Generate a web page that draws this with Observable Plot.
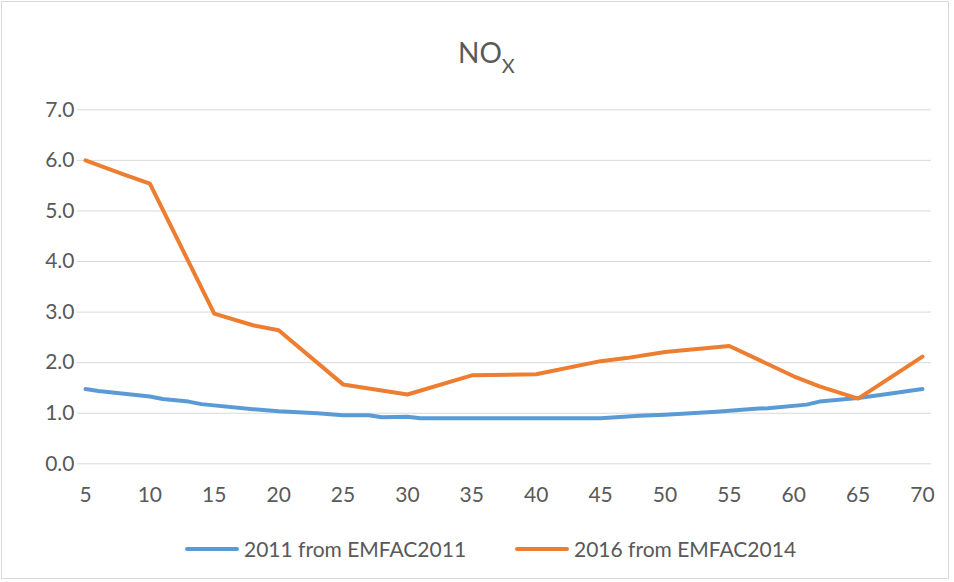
<!DOCTYPE html>
<html>
<head>
<meta charset="utf-8">
<script src="https://cdn.jsdelivr.net/npm/d3@7"></script>
<script src="https://cdn.jsdelivr.net/npm/@observablehq/plot@0.6"></script>
<style>
  body { margin: 0; background: #fff; }
  #page { position: relative; width: 954px; height: 582px; font-family: Lato, "Open Sans", sans-serif; color: #595959; overflow: hidden; }
  #border { position: absolute; left: 1px; top: 1px; width: 946px; height: 576px; border: 1px solid #d9d9d9; box-sizing: content-box; }
  #title { position: absolute; left: 458px; top: 38px; font-size: 28px; line-height: 28px; white-space: nowrap; }
  #title .sub { font-size: 20px; position: relative; top: 10px; }
  #chart { position: absolute; left: 0; top: 90px; }
  .leg { position: absolute; top: 537px; height: 24px; line-height: 24px; font-size: 21px; white-space: nowrap; display: flex; align-items: center; }
  .sw { display: inline-block; width: 54px; height: 4px; border-radius: 2px; margin-right: 5px; }
</style>
</head>
<body>
<div id="page">
  <div id="border"></div>
  <div id="title">NO<span class="sub">X</span></div>
  <div id="chart"></div>
  <div class="leg" style="left:185px"><span class="sw" style="background:#5B9BD5"></span><span>2011 from EMFAC2011</span></div>
  <div class="leg" style="left:515px"><span class="sw" style="background:#ED7D31"></span><span>2016 from EMFAC2014</span></div>
</div>
<script>
const seriesNames = ["2011 from EMFAC2011", "2016 from EMFAC2014"];
const colors = ["#5B9BD5", "#ED7D31"];

const speeds2011 = [5, 6, 10, 11, 13, 14, 18, 20, 23, 25, 27, 28, 30, 31, 45, 48, 50, 54, 57, 58, 61, 62, 65, 67, 70];
const values2011 = [1.48, 1.44, 1.33, 1.28, 1.23, 1.18, 1.08, 1.04, 1.00, 0.96, 0.96, 0.92, 0.93, 0.90, 0.90, 0.95, 0.97, 1.03, 1.09, 1.10, 1.17, 1.23, 1.30, 1.37, 1.48];

const speeds2016 = [5, 8, 10, 15, 18, 20, 25, 28, 30, 35, 40, 45, 47, 50, 55, 60, 62, 65, 70];
const values2016 = [6.00, 5.72, 5.54, 2.97, 2.74, 2.64, 1.57, 1.45, 1.37, 1.75, 1.77, 2.03, 2.09, 2.21, 2.33, 1.73, 1.53, 1.29, 2.12];

const xTicks = [5, 10, 15, 20, 25, 30, 35, 40, 45, 50, 55, 60, 65, 70];
const yTicks = [0, 1, 2, 3, 4, 5, 6, 7];

const data = [
  ...speeds2011.map((s, i) => ({speed: s, value: values2011[i], series: seriesNames[0]})),
  ...speeds2016.map((s, i) => ({speed: s, value: values2016[i], series: seriesNames[1]}))
];

const chart = Plot.plot({
  width: 954,
  height: 430,
  marginLeft: 77,
  marginRight: 23,
  marginTop: 19.3,
  marginBottom: 56.7,
  style: {fontFamily: "Lato, 'Open Sans', sans-serif", fontSize: "21px", color: "#595959", background: "transparent"},
  x: {domain: [4.379, 70.699]},
  y: {domain: [0, 7]},
  color: {domain: seriesNames, range: colors},
  marks: [
    Plot.ruleY(yTicks, {stroke: "#d9d9d9", strokeWidth: 1}),
    Plot.axisY({ticks: yTicks, tickFormat: d => d.toFixed(1), tickSize: 0, tickPadding: 3, label: null, fontSize: 21}),
    Plot.axisX({ticks: xTicks, tickFormat: d => String(d), tickSize: 0, tickPadding: 23, label: null, fontSize: 21}),
    Plot.line(data, {x: "speed", y: "value", z: "series", stroke: "series", strokeWidth: 4, strokeLinejoin: "round", strokeLinecap: "round"})
  ]
});
document.getElementById("chart").appendChild(chart);
</script>
</body>
</html>
